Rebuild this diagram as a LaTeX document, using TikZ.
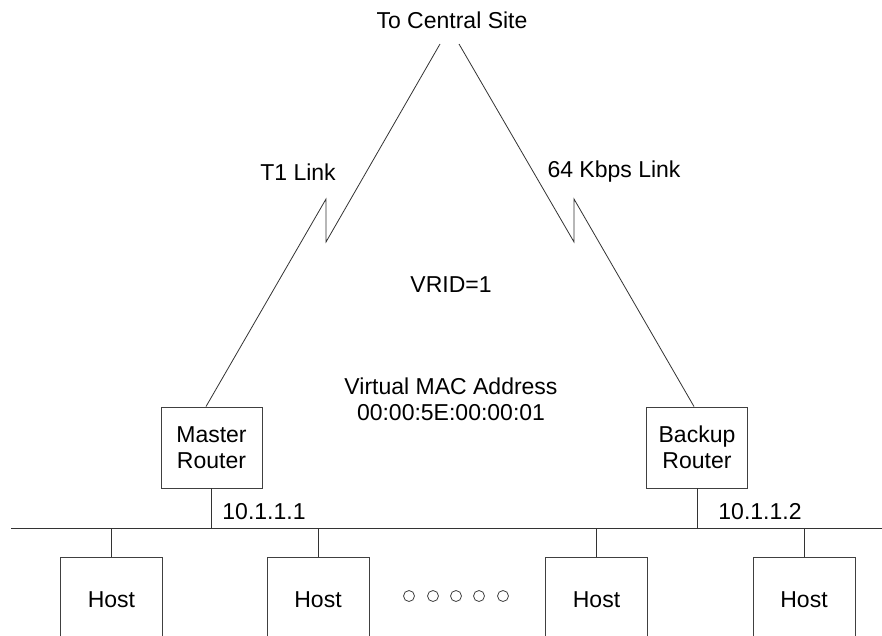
\documentclass[tikz,border=0pt]{standalone}
\usepackage{fontspec}
\setmainfont{Liberation Sans}
\usetikzlibrary{positioning}

\tikzset{
  router/.style={rectangle, draw=black!75, line width=0.9pt, minimum width=101pt, minimum height=81pt, align=center, inner sep=0pt},
  host/.style={rectangle, draw=black!75, line width=0.9pt, minimum width=102pt, minimum height=86pt, inner sep=0pt},
  wire/.style={draw=black!80, line width=0.8pt},
  dot/.style={circle, draw=black!75, line width=0.8pt, minimum size=11pt, inner sep=0pt}
}

\begin{document}
\begin{tikzpicture}[x=1pt, y=-1pt, font=\fontsize{23}{26}\selectfont]
      \useasboundingbox (0,0) rectangle (882,636);

      \node at (452,20) (central) {To Central Site};
      \node at (298,172) (t1) {T1 Link};
      \node at (614,172) (kbps) {64 Kbps Link};
      \node at (451,285) (vrid) {VRID=1};
      \node at (451,399) [align=center] (vmac) {Virtual MAC Address\\00:00:5E:00:00:01};

      \node at (211.5,447.5) [router] (master) {Master\\Router};
      \node at (697,447.5) [router] (backup) {Backup\\Router};
      \node at (264,512) (ip1) {10.1.1.1};
      \node at (760,512) (ip2) {10.1.1.2};

      \coordinate (t1top) at (440,44);
      \coordinate (kbtop) at (459,44);
      \coordinate (busL) at (11,528);
      \coordinate (busR) at (882,528);

      % serial links with the zigzag
      \draw[wire]
      (t1top) -- (326,242) -- (326,199) -- ([xshift=-5.5pt]master.north);
      \draw[wire]
      (kbtop) -- (574,242) -- (574,199) -- ([xshift=-3pt]backup.north);

      % the LAN
      \draw[wire] (busL) -- (busR);
      \draw[wire] (master.south) -- (master.south |- busL);
      \draw[wire] (backup.south) -- (backup.south |- busL);

      \node at (111.5,600) [host] (host1) {Host};
      \node at (318,600) [host] (host2) {Host};
      \node at (596.5,600) [host] (host3) {Host};
      \node at (804,600) [host] (host4) {Host};
      \foreach \h in {host1,host2,host3,host4}
        \draw[wire] (\h.north) -- (\h.north |- busL);

      \foreach \x in {409,433,456,479,503}
        \node at (\x,596) [dot] (dot\x) {};
\end{tikzpicture}
\end{document}
